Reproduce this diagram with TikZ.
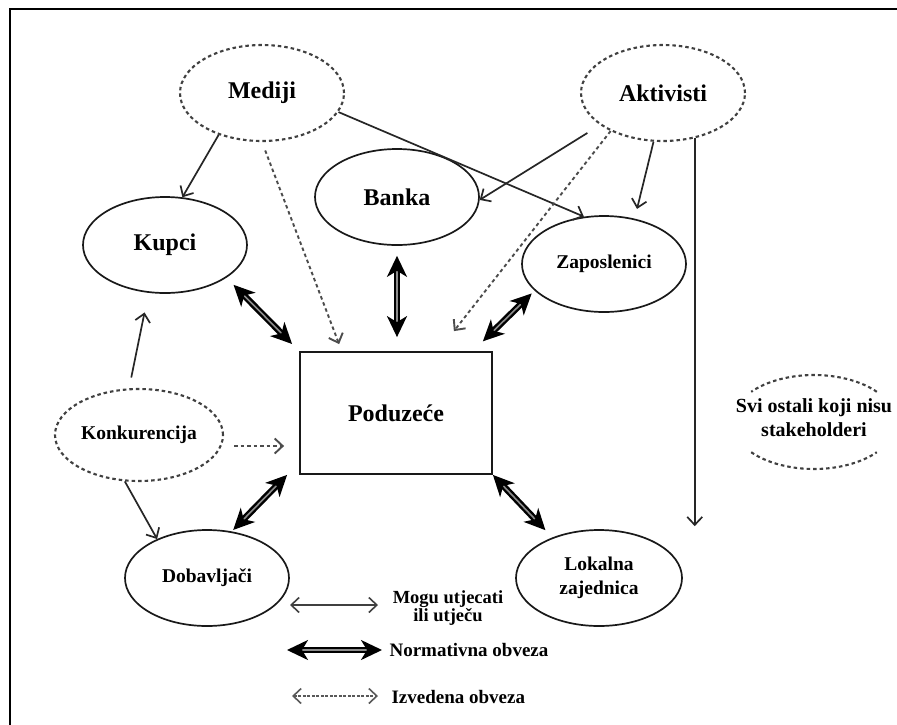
\documentclass[tikz,border=0pt]{standalone}
\usepackage{fontspec}
\setmainfont{Liberation Serif}
\usetikzlibrary{arrows.meta,shapes.geometric}

\tikzset{
  lblA/.style={font=\bfseries\fontsize{24}{26}\selectfont},
  lblB/.style={font=\bfseries\fontsize{19.5}{24}\selectfont},
  lblC/.style={font=\bfseries\fontsize{19}{18}\selectfont},
  solidell/.style={ellipse, draw=black!90, line width=1.7pt, minimum width=164pt,
    minimum height=96pt, inner sep=0pt, text=black},
  dashell/.style={ellipse, draw=black!75, line width=2.1pt, dash pattern=on 3.5pt off 3pt,
    minimum width=164pt, minimum height=96pt, inner sep=0pt, text=black},
  dashcurve/.style={draw=black!75, line width=2.1pt, dash pattern=on 3.5pt off 3pt},
  thinarr/.style={draw=black!85, line width=1.7pt,
    -{Straight Barb[length=8pt,width=15pt]}},
  thinboth/.style={draw=black!75, line width=1.6pt,
    {Straight Barb[length=8pt,width=15pt]}-{Straight Barb[length=8pt,width=15pt]}},
  dasharr/.style={draw=black!70, line width=1.9pt, dash pattern=on 3.5pt off 3pt,
    -{Straight Barb[length=8pt,width=15pt]}},
  dashboth/.style={draw=black!65, line width=1.6pt, dash pattern=on 3pt off 1.5pt,
    {Straight Barb[length=8pt,width=15pt]}-{Straight Barb[length=8pt,width=15pt]}},
  normarr/.style={draw=black, line width=2.4pt, double=black!45, double distance=1.6pt,
    {Stealth[length=21pt,width=20pt,inset=6pt]}-{Stealth[length=21pt,width=20pt,inset=6pt]}},
}

\begin{document}
\begin{tikzpicture}[x=1pt,y=-1pt]
\useasboundingbox (0,0) rectangle (897,724);
\fill[white] (0,0) rectangle (897,724);

% outer frame
\draw[line width=2.2pt] (10,730) -- (10,9) -- (905,9);

% stakeholders
\node[dashell, lblA] (med) at (262,93) {Mediji};
\node[dashell, lblA] (akt) at (663,93) {Aktivisti};
\node[solidell, lblA] (ban) at (397,197) {Banka};
\node[solidell, lblA] (kup) at (165,245) {Kupci};
\node[solidell, lblB] (zap) at (604,264) {Zaposlenici};
\node[draw=black!90, line width=1.8pt, minimum width=192pt, minimum height=122pt,
  inner sep=0pt, lblA] (pod) at (396,413) {Poduzeće};
\node[dashell, lblB, minimum width=168pt, minimum height=92pt] (kon) at (139,435) {Konkurencija};
\node[solidell, lblB] (dob) at (207,578) {Dobavljači};
\node[solidell, lblB, minimum width=166pt, align=center] (lok) at (599,578) {Lokalna\\zajednica};

% non-stakeholders: only the upper and lower arcs of the ellipse are drawn
\node[lblB, align=center, font=\bfseries\fontsize{20}{24}\selectfont] (svi) at (814,418)
  {Svi ostali koji nisu\\stakeholderi};
\draw[dashcurve] ([shift={(40:82pt and 47pt)}]svi.center) ++(0,4)
  arc[start angle=40, end angle=140, x radius=82pt, y radius=47pt];
\draw[dashcurve] ([shift={(220:82pt and 47pt)}]svi.center) ++(0,4)
  arc[start angle=220, end angle=320, x radius=82pt, y radius=47pt];

% influence
\draw[thinarr] (med.224) -- (kup.70);
\draw[thinarr] (med.346) -- (zap.113);
\draw[thinarr, shorten <=15pt] (akt.207) -- (ban.358);
\draw[thinarr, shorten >=10pt] (akt.259) -- (zap.56);
\draw[thinarr] (akt.305) -- ([yshift=3pt]akt.305 |- lok.north);
\draw[thinarr, shorten <=11pt, shorten >=20pt] (kon.102) -- (kup.251);
\draw[thinarr] (kon.253) -- (dob.142);

% derived obligation
\draw[dasharr, shorten <=9pt] (med.south) -- ([xshift=40pt,yshift=7pt]pod.north west);
\draw[dasharr] (akt.216) -- ([xshift=-39pt,yshift=20pt]pod.north east);
\draw[dasharr, shorten <=10pt, shorten >=15pt] ([yshift=-11pt]kon.east) -- ([yshift=-11pt]kon.east -| pod.west);

% normative obligation
\draw[normarr, shorten <=10pt, shorten >=10pt] (kup.332) -- (pod.north west);
\draw[normarr, shorten <=10pt, shorten >=14pt] (ban.south) -- (ban.south |- pod.north);
\draw[normarr, shorten <=4pt, shorten >=14pt] (zap.201) -- ([xshift=-20pt]pod.north east);
\draw[normarr, shorten <=2pt] (dob.62) -- ([xshift=-12pt]pod.south west);
\draw[normarr, shorten >=10pt] (pod.south east) -- (lok.139);

% legend
\node[lblC, align=center, font=\bfseries\fontsize{18.5}{18}\selectfont] (lg1) at (448,608) {Mogu utjecati\\ili utječu};
\node[lblC, anchor=west] (lg2) at (386,650) {Normativna obveza};
\node[lblC, anchor=west] (lg3) at (388,697) {Izvedena obveza};
\coordinate (l1a) at (290,605);
\coordinate (l1b) at (378,605);
\coordinate (l2a) at (287,650);
\coordinate (l2b) at (382,650);
\coordinate (l3a) at (292,696);
\coordinate (l3b) at (378,696);
\draw[thinboth] (l1a) -- (l1b);
\draw[normarr] (l2a) -- (l2b);
\draw[dashboth] (l3a) -- (l3b);
\end{tikzpicture}
\end{document}
